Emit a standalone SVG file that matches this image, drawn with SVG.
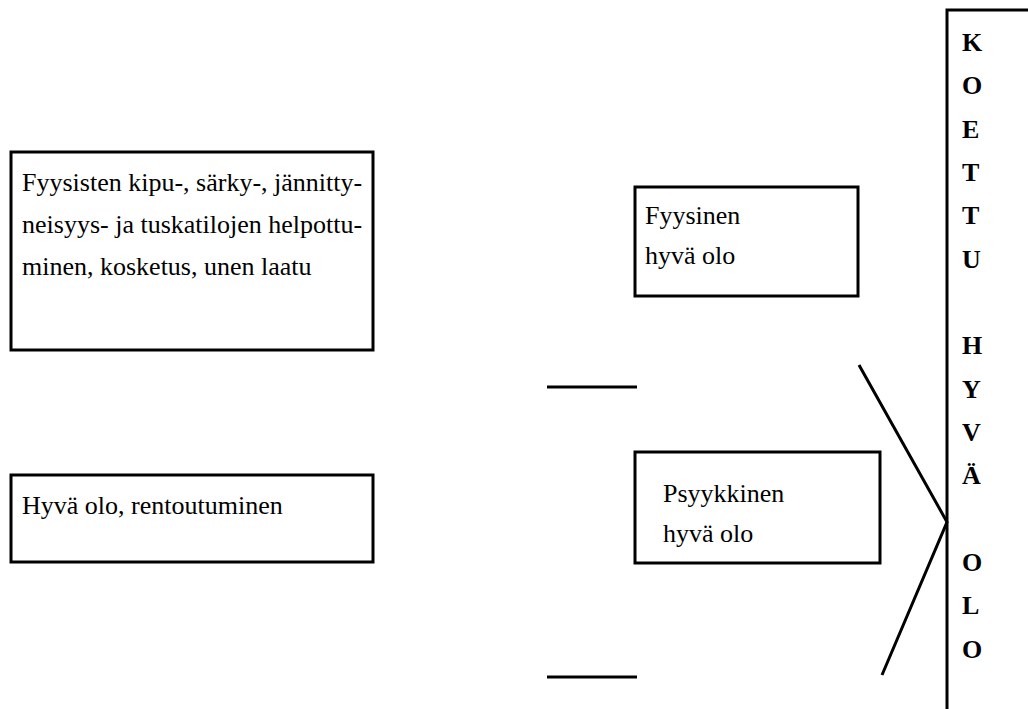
<svg xmlns="http://www.w3.org/2000/svg" width="1028" height="709" viewBox="0 0 1028 709">
  <style>
    .box { fill: #fff; stroke: #000; stroke-width: 3; }
    .txt { font-family: 'Liberation Serif', serif; font-size: 26px; fill: #000; }
    .col { font-family: 'Liberation Serif', serif; font-size: 26px; font-weight: bold; fill: #000; }
    .ln { stroke: #000; stroke-width: 3; fill: none; }
  </style>
  <rect width="1028" height="709" fill="#fff"/>

  <g id="node-fyysiset-tekijat">
    <rect class="box" x="11" y="152" width="362" height="198"/>
    <text class="txt" x="22" y="191">Fyysisten kipu-, särky-, jännitty-</text>
    <text class="txt" x="22" y="233">neisyys- ja tuskatilojen helpottu-</text>
    <text class="txt" x="22" y="275">minen, kosketus, unen laatu</text>
  </g>

  <g id="node-hyva-olo">
    <rect class="box" x="11" y="475" width="362" height="87"/>
    <text class="txt" x="22" y="514">Hyvä olo, rentoutuminen</text>
  </g>

  <g id="node-fyysinen">
    <rect class="box" x="635" y="187" width="223" height="109"/>
    <text class="txt" x="645" y="224">Fyysinen</text>
    <text class="txt" x="645" y="264">hyvä olo</text>
  </g>

  <g id="node-psyykkinen">
    <rect class="box" x="635" y="452" width="245" height="111"/>
    <text class="txt" x="663" y="502">Psyykkinen</text>
    <text class="txt" x="663" y="542">hyvä olo</text>
  </g>

  <g id="node-koettu-hyva-olo">
    <path class="ln" d="M947 709 V10 H1028"/>
    <g class="col">
      <text x="962" y="51">K</text>
      <text x="962" y="94">O</text>
      <text x="962" y="138">E</text>
      <text x="962" y="181">T</text>
      <text x="962" y="224">T</text>
      <text x="962" y="268">U</text>
      <text x="962" y="354">H</text>
      <text x="962" y="398">Y</text>
      <text x="962" y="441">V</text>
      <text x="962" y="484">Ä</text>
      <text x="962" y="571">O</text>
      <text x="962" y="614">L</text>
      <text x="962" y="658">O</text>
    </g>
  </g>

  <g id="connectors">
    <line class="ln" x1="547" y1="387" x2="637" y2="387"/>
    <line class="ln" x1="547" y1="677" x2="637" y2="677"/>
    <polyline class="ln" points="859,365 947,522 882,675"/>
  </g>
</svg>
